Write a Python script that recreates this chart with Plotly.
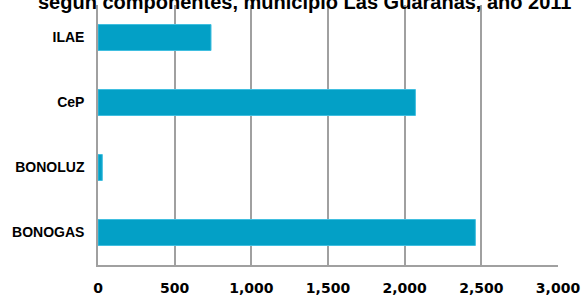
import plotly.graph_objects as go

categories = ["ILAE", "CeP", "BONOLUZ", "BONOGAS"]
values = [737, 2070, 28, 2461]
x_ticks = [0, 500, 1000, 1500, 2000, 2500, 3000]
x_tick_labels = ["0", "500", "1,000", "1,500", "2,000", "2,500", "3,000"]
title_text = "según componentes, municipio Las Guáranas, año 2011"

fig = go.Figure(
    go.Bar(
        x=values,
        y=categories,
        orientation="h",
        marker=dict(color="#03a0c6", line=dict(color="#40bfe0", width=1)),
    )
)

fig.update_layout(
    width=582,
    height=295,
    margin=dict(l=98, r=24, t=5, b=30, autoexpand=False),
    paper_bgcolor="white",
    plot_bgcolor="white",
    bargap=0.6,
    showlegend=False,
    annotations=[
        dict(
            text=title_text,
            xref="paper",
            yref="paper",
            x=0.45,
            y=1,
            xanchor="center",
            yanchor="bottom",
            yshift=-10,
            showarrow=False,
            font=dict(family="Liberation Sans", size=20, color="black", weight="bold"),
        )
    ],
)

fig.update_xaxes(
    range=[0, 3000],
    tickvals=x_ticks,
    ticktext=x_tick_labels,
    showgrid=True,
    gridcolor="#a0a0a0",
    gridwidth=1.5,
    showline=True,
    linecolor="#a0a0a0",
    linewidth=1.5,
    mirror=False,
    zeroline=False,
    ticks="",
    automargin=False,
    ticklabelstandoff=9,
    tickfont=dict(family="DejaVu Sans", size=14, color="black", weight="bold"),
)

fig.update_yaxes(
    categoryorder="array",
    categoryarray=categories,
    autorange="reversed",
    showgrid=False,
    showline=True,
    linecolor="#a0a0a0",
    linewidth=1.5,
    ticks="",
    automargin=False,
    ticklabelstandoff=9,
    tickfont=dict(family="Liberation Sans", size=14, color="black", weight="bold"),
)

fig.write_html(
    "out.html",
    config={"displayModeBar": False},
    post_script="document.body.style.margin='0';document.body.style.overflow='hidden';",
)
